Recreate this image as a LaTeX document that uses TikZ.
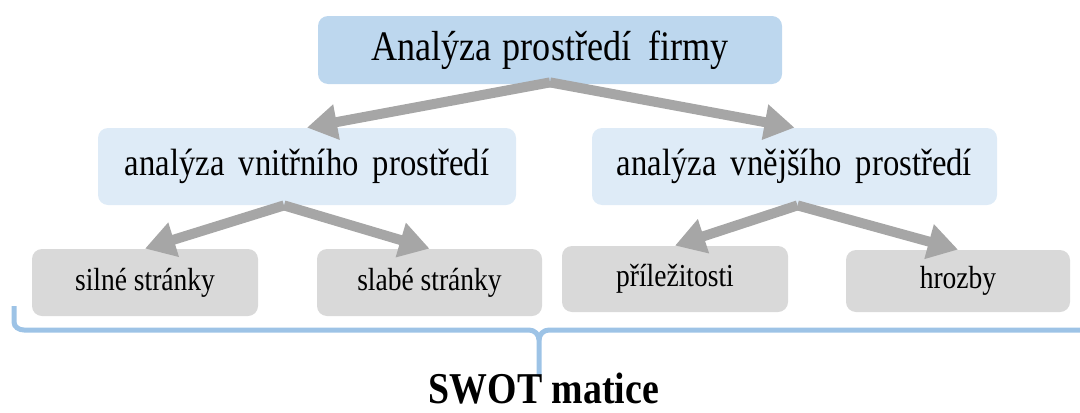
\documentclass[tikz,border=0pt]{standalone}
\usepackage{fontspec}
\setmainfont{Liberation Serif}[FakeStretch=0.86]
\usetikzlibrary{arrows.meta}

\definecolor{topblue}{HTML}{BDD7EE}
\definecolor{midblue}{HTML}{DEEBF7}
\definecolor{boxgray}{HTML}{D9D9D9}
\definecolor{arrowgray}{HTML}{A6A6A6}
\definecolor{braceblue}{HTML}{9DC3E6}

\tikzset{
    box/.style={rounded corners=5pt, inner sep=0pt, align=center},
    toparrow/.style={draw=arrowgray, line width=5pt, -{Triangle[length=15pt, width=17pt]}}
}

\begin{document}
\begin{tikzpicture}[x=0.5pt, y=-0.5pt]
    \useasboundingbox (0,0) rectangle (1080,412);

    % Top level
    \node[box, fill=topblue, minimum width=232pt, minimum height=34pt] (firma) at (550,50)
        {\fontsize{21}{23}\selectfont Analýza\hspace{1pt} prostředí\hspace{4pt} firmy};

    % Second level
    \node[box, fill=midblue, minimum width=209pt, minimum height=38.5pt] (vnitrni) at (307,166.5)
        {\fontsize{19}{22}\selectfont analýza\hspace{3pt} vnitřního\hspace{3pt} prostředí};
    \node[box, fill=midblue, minimum width=202.5pt, minimum height=38.5pt] (vnejsi) at (794.5,166.5)
        {\fontsize{19}{22}\selectfont analýza\hspace{3pt} vnějšího\hspace{3pt} prostředí};

    % Third level
    \node[box, fill=boxgray, minimum width=113pt, minimum height=33.5pt] (silne) at (145,282.5)
        {\fontsize{16}{18}\selectfont silné stránky};
    \node[box, fill=boxgray, minimum width=112.5pt, minimum height=33.5pt] (slabe) at (429.5,282.5)
        {\fontsize{16}{18}\selectfont slabé stránky};
    \node[box, fill=boxgray, minimum width=113pt, minimum height=33pt] (prilez) at (675,279)
        {\fontsize{16}{18}\selectfont příležitosti};
    \node[box, fill=boxgray, minimum width=112pt, minimum height=31pt] (hrozby) at (958,281)
        {\fontsize{16}{18}\selectfont hrozby};

    % Arrows
    \draw[toparrow] ([yshift=1pt]firma.south) -- (vnitrni.north);
    \draw[toparrow] ([yshift=1pt]firma.south) -- (vnejsi.north);
    \draw[toparrow] ([xshift=-11.5pt]vnitrni.south) -- (silne.north);
    \draw[toparrow] ([xshift=-11.5pt]vnitrni.south) -- (slabe.north);
    \draw[toparrow] ([xshift=1.5pt]vnejsi.south) -- (prilez.north);
    \draw[toparrow] ([xshift=1.5pt]vnejsi.south) -- (hrozby.north);

    % Brace
    \coordinate (bl) at (14,306);
    \coordinate (bm) at (539,375);
    \coordinate (br) at (1080,330);
    \draw[braceblue, line width=2.5pt]
        (bl) -- (14,322) to[out=-90, in=180] (24,330) -- (529,330)
        to[out=0, in=90] (539,340) -- (bm);
    \draw[braceblue, line width=2.5pt]
        (539,340) to[out=90, in=180] (549,330) -- (br);

    \node[inner sep=1pt] (swot) at (544,389) {\fontsize{22}{24}\selectfont\bfseries SWOT matice};
\end{tikzpicture}
\end{document}
